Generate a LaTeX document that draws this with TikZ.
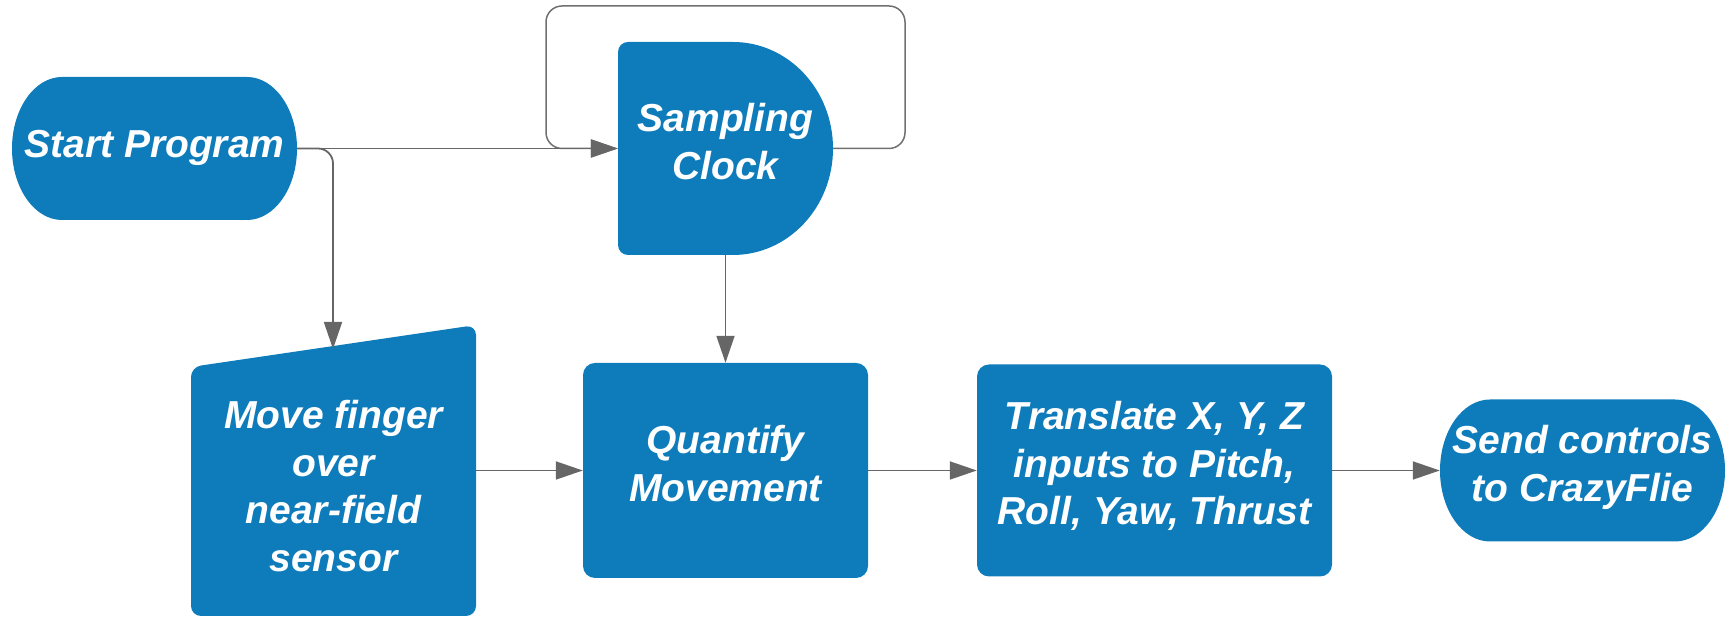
\documentclass[tikz,border=0pt]{standalone}
\usepackage{fontspec}
\setmainfont{Liberation Sans}
\usetikzlibrary{arrows.meta}
\definecolor{flowblue}{RGB}{14,124,187}
\definecolor{linegray}{RGB}{102,102,102}
\definecolor{loopgray}{RGB}{112,112,112}
\begin{document}
\begin{tikzpicture}[x=1pt,y=1pt,
  lbl/.style={text=white, font=\fontsize{39}{47.5}\selectfont\bfseries\itshape,
    align=center, inner sep=0pt,
    execute at begin node=\strut, execute at end node=\strut},
  box/.style={lbl, fill=flowblue, rounded corners=12pt},
  arr/.style={draw=linegray, line width=1.8pt, -{Triangle[length=27pt,width=18pt]}},
  feedback/.style={draw=loopgray, line width=1.5pt, rounded corners=16pt}]
\useasboundingbox (0,0) rectangle (1733,617);

% terminator: Start Program
\fill[flowblue] (62,397) -- (247,397)
  arc[start angle=-90,end angle=90,x radius=50,y radius=71.5]
  -- (62,540) arc[start angle=90,end angle=270,x radius=50,y radius=71.5] -- cycle;
% delay shape: Sampling Clock
\fill[flowblue] (733,575)
  arc[start angle=90,end angle=-90,x radius=100,y radius=106.5]
  -- (628,362) arc[start angle=270,end angle=180,radius=10]
  -- (618,565) arc[start angle=180,end angle=90,radius=10] -- cycle;
% manual input: Move finger
\fill[flowblue, rounded corners=10pt] (191,1) -- (191,250) -- (476,292) -- (476,1) -- cycle;
% terminator: Send controls
\fill[flowblue] (1490,75.5) -- (1675,75.5)
  arc[start angle=-90,end angle=90,x radius=50,y radius=71]
  -- (1490,217.5) arc[start angle=90,end angle=270,x radius=50,y radius=71] -- cycle;

\node[lbl, minimum width=285pt, minimum height=143pt] (start) at (154.5,468.5) {Start Program};
\node[lbl, minimum width=215pt, minimum height=213pt] (samp) at (725.5,468.5) {Sampling\\Clock};
\node[lbl, minimum width=285pt] (move) at (333.5,124) {Move finger\\over\\near-field\\sensor};
\node[box, minimum width=285pt, minimum height=215pt] (quant) at (725.5,146.5) {Quantify\\Movement};
\node[box, minimum width=355pt, minimum height=212pt] (trans) at (1154.5,146.5) {Translate X, Y, Z\\inputs to Pitch,\\Roll, Yaw, Thrust};
\node[lbl, minimum width=285pt, minimum height=142pt] (send) at (1582.5,146.5) {Send controls\\to CrazyFlie};

\coordinate (movetop) at (333,268);

% sampling loop
\draw[feedback, -{Triangle[length=27pt,width=18pt]}]
  (samp.east) -- (905,468.5) -- (905,611) -- (546,611) -- (546,468.5) -- (samp.west);
\draw[arr] (start.east) -- (samp.west);
\draw[arr, rounded corners=15pt] (start.east) -| (movetop);
\draw[arr] (samp.south) -- (quant.north);
\draw[arr] (move.east |- quant.west) -- (quant.west);
\draw[arr] (quant.east) -- (trans.west);
\draw[arr] (trans.east) -- (send.west);
\end{tikzpicture}
\end{document}
